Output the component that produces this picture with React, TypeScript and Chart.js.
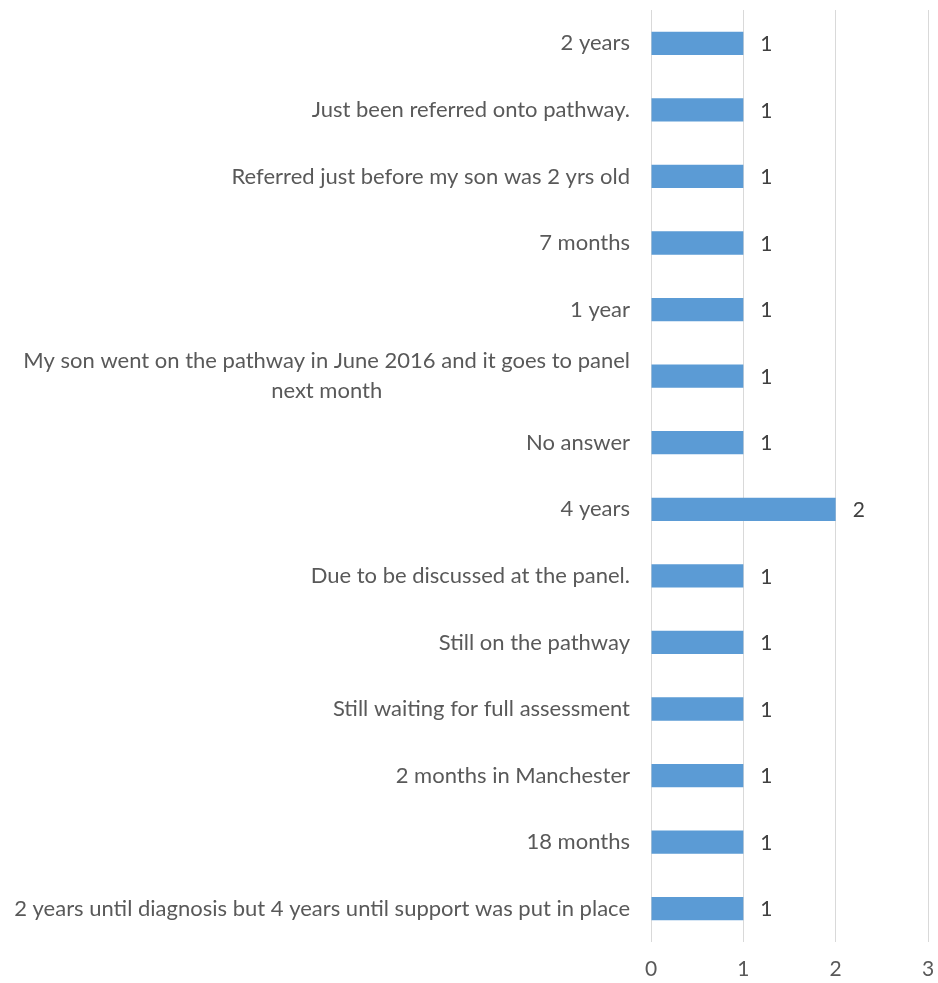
import React, { useEffect, useRef } from "react";
import { Chart, registerables } from "chart.js";
Chart.register(...registerables);

const categories: (string | string[])[] = [
  "2 years",
  "Just been referred onto pathway.",
  "Referred just before my son was 2 yrs old",
  "7 months",
  "1 year",
  ["My son went on the pathway in June 2016 and it goes to panel", "next month"],
  "No answer",
  "4 years",
  "Due to be discussed at the panel.",
  "Still on the pathway",
  "Still waiting for full assessment",
  "2 months in Manchester",
  "18 months",
  "2 years until diagnosis but 4 years until support was put in place",
];
const values: number[] = [1, 1, 1, 1, 1, 1, 1, 2, 1, 1, 1, 1, 1, 1];
const xTicks: number[] = [0, 1, 2, 3];

const FONT = "Lato, 'Open Sans', sans-serif";

const dataLabels = {
  id: "dataLabels",
  afterDatasetsDraw(chart: any) {
    const ctx = chart.ctx;
    const meta = chart.getDatasetMeta(0);
    ctx.save();
    ctx.fillStyle = "#404040";
    ctx.font = `21px ${FONT}`;
    ctx.textAlign = "left";
    ctx.textBaseline = "middle";
    meta.data.forEach((bar: any, i: number) => {
      ctx.fillText(String(values[i]), bar.x + 17, bar.y + 1);
    });
    ctx.restore();
  },
};

const categoryLabels = {
  id: "categoryLabels",
  afterDraw(chart: any) {
    const ctx = chart.ctx;
    const yScale = chart.scales.y;
    const right = chart.chartArea.left - 21;
    const lineH = 30;
    ctx.save();
    ctx.fillStyle = "#595959";
    ctx.font = `22px ${FONT}`;
    ctx.textBaseline = "middle";
    categories.forEach((label, i) => {
      const y = yScale.getPixelForTick(i);
      const lines = Array.isArray(label) ? label : [label];
      const widths = lines.map((l) => ctx.measureText(l).width);
      const maxW = Math.max(...widths);
      const center = right - maxW / 2;
      ctx.textAlign = "center";
      lines.forEach((l, j) => {
        const ly = y + (j - (lines.length - 1) / 2) * lineH;
        ctx.fillText(l, center, ly);
      });
    });
    ctx.restore();
  },
};

export default function App() {
  const ref = useRef<HTMLCanvasElement>(null);
  useEffect(() => {
    if (!ref.current) return;
    const chart = new Chart(ref.current, {
      type: "bar",
      data: {
        labels: categories,
        datasets: [
          {
            data: values,
            backgroundColor: "#5B9BD5",
            borderColor: "#5B9BD5",
            borderWidth: 0,
            barPercentage: 0.35,
            categoryPercentage: 1,
          },
        ],
      },
      options: {
        indexAxis: "y",
        animation: false,
        responsive: true,
        maintainAspectRatio: false,
        layout: { padding: { top: 10, right: 10, left: 0, bottom: 0 } },
        plugins: { legend: { display: false }, tooltip: { enabled: false } },
        scales: {
          x: {
            min: 0,
            max: 3,
            afterBuildTicks: (s: any) => {
              s.ticks = xTicks.map((v) => ({ value: v }));
            },
            grid: { color: "#d9d9d9", drawTicks: false },
            border: { display: false },
            ticks: {
              color: "#595959",
              font: { family: FONT, size: 21 },
              padding: 15,
            },
            afterFit: (s: any) => {
              s.height = 41;
              s.paddingLeft = 0;
              s.paddingRight = 0;
            },
          },
          y: {
            grid: { display: false, drawTicks: false },
            border: { display: false },
            ticks: {
              display: false,
              autoSkip: false,
            },
            afterFit: (s: any) => {
              s.width = 651;
              s.paddingTop = 0;
              s.paddingBottom = 0;
            },
          },
        },
      },
      plugins: [dataLabels, categoryLabels],
    });
    return () => chart.destroy();
  }, []);
  return (
    <div style={{ position: "fixed", left: 0, top: 0, width: 938, height: 983, background: "#fff" }}>
      <canvas ref={ref} />
    </div>
  );
}
